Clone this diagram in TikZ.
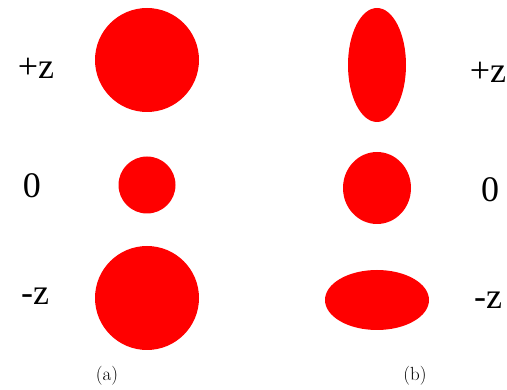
\documentclass[tikz,border=0pt]{standalone}
\usepackage{fontspec}
\newfontfamily\labfont{Liberation Serif}
\usetikzlibrary{shapes.geometric}
\tikzset{
  blob/.style={ellipse,fill=red,draw=none,inner sep=0pt},
  zlabel/.style={font=\labfont\fontsize{36}{40}\selectfont,inner sep=0pt},
  caption/.style={font=\fontsize{19}{22}\selectfont,inner sep=0pt}
}
\begin{document}
\begin{tikzpicture}[x=1pt,y=-1pt]
        \useasboundingbox (0,0) rectangle (507,390);
        % column (a): spot sizes along z
        \node[blob,minimum width=104,minimum height=104] (atop) at (147,60) {};
        \node[blob,minimum width=57,minimum height=57] (amid) at (147,185) {};
        \node[blob,minimum width=104,minimum height=104] (abot) at (147,298) {};
        % column (b): astigmatic spots
        \node[blob,minimum width=58,minimum height=114] (btop) at (377,65) {};
        \node[blob,minimum width=68,minimum height=72] (bmid) at (377,188) {};
        \node[blob,minimum width=104,minimum height=60] (bbot) at (377,300) {};
        \node[zlabel] (lzp) at (36,68) {+z};
        \node[zlabel] (lz0) at (32,186) {0};
        \node[zlabel] (lzm) at (35,296) {-z};
        \node[zlabel] (rzp) at (488,72) {+z};
        \node[zlabel] (rz0) at (490,190) {0};
        \node[zlabel] (rzm) at (488,300) {-z};
        \node[caption] (capa) at (107,376) {(a)};
        \node[caption] (capb) at (415,376) {(b)};
      \end{tikzpicture}
\end{document}
